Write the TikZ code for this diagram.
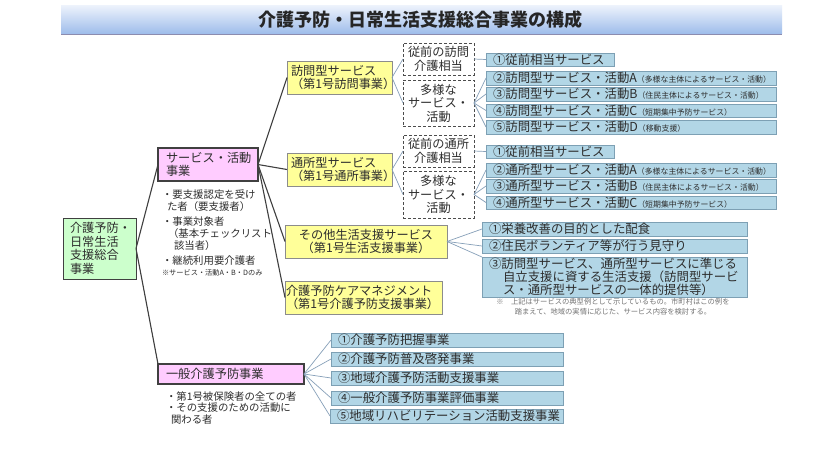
\documentclass[tikz,border=0pt]{standalone}
\usepackage{fontspec}
\setmainfont{Noto Sans CJK JP}
\definecolor{drawColor}{RGB}{45,45,45}
\definecolor{greenFill}{RGB}{204,255,204}
\definecolor{pinkFill}{RGB}{255,204,255}
\definecolor{yellowFill}{RGB}{255,255,153}
\definecolor{blueFill}{RGB}{178,214,230}
\definecolor{blueEdge}{RGB}{125,160,180}
\definecolor{linkColor}{RGB}{135,160,185}
\definecolor{bandTop}{RGB}{238,243,252}
\definecolor{bandBottom}{RGB}{160,190,235}
\tikzset{
  box/.style={anchor=west,inner xsep=4pt,inner ysep=0pt,outer sep=0pt,align=left,text=drawColor,font=\fontsize{12.2}{13.5}\selectfont},
  greenbox/.style={box,draw=black!75,line width=0.9pt,fill=greenFill},
  pinkbox/.style={box,draw=black!75,line width=1.1pt,fill=pinkFill},
  yellowbox/.style={box,draw=black!45,line width=0.9pt,fill=yellowFill},
  dashbox/.style={box,draw=black!70,line width=0.7pt,densely dashed,fill=white,align=center,inner xsep=0pt},
  bluebox/.style={box,draw=blueEdge,line width=0.8pt,fill=blueFill,inner xsep=7pt,font=\fontsize{12.4}{13.3}\selectfont},
  note/.style={anchor=north west,inner sep=0pt,outer sep=0pt,align=left,text=drawColor,font=\fontsize{10.4}{11.7}\selectfont},
  mainlink/.style={draw=black!75,line width=1.1pt},
  sublink/.style={draw=linkColor,line width=0.7pt}
}
\newcommand{\smalltail}[1]{{\fontsize{7.9}{9}\selectfont #1}}
\begin{document}
\begin{tikzpicture}[x=1pt,y=-1pt]
\path[use as bounding box,fill=white] (0,0) rectangle (835,459);

% title band
\path[top color=bandTop,bottom color=bandBottom] (61,5) rectangle (782,33);
\path[draw=blue!30!black!45,line width=1pt] (61,34) -- (782,34);
\node[inner sep=0pt,text=black!85,font=\fontsize{18}{20}\selectfont\bfseries] (title) at (420,20) {介護予防・日常生活支援総合事業の構成};

% left column
\node[greenbox,inner xsep=7pt,text width=59pt,minimum height=61pt] (sogo) at (63,248.5) {介護予防・\\日常生活\\支援総合\\事業};
\node[pinkbox,inner xsep=8pt,text width=84pt,minimum height=33pt] (svc) at (158,164.5) {サービス・活動\\事業};
\node[pinkbox,inner xsep=8pt,text width=130pt,minimum height=20pt] (ippan) at (158,374) {一般介護予防事業};

\node[note] (svcnote) at (162,190) {・要支援認定を受け\\\hspace*{5pt}た者（要支援者）};
\node[note] (svcnoteb) at (162,217) {・事業対象者\\\hspace*{6pt}（基本チェックリスト\\\hspace*{12pt}該当者）};
\node[note] (svcnotec) at (162,256) {・継続利用要介護者\\[-1pt]{\fontsize{7.2}{9}\selectfont ※サービス・活動A・B・Dのみ}};
\node[note] (ippannote) at (166,391.5) {・第1号被保険者の全ての者\\・その支援のための活動に\\\hspace*{5pt}関わる者};

% yellow column
\node[yellowbox,text width=97pt,minimum height=33pt] (homon) at (287,77.5) {訪問型サービス\\（第1号訪問事業）};
\node[yellowbox,text width=97pt,minimum height=33pt] (tsusho) at (287,169.5) {通所型サービス\\（第1号通所事業）};
\node[yellowbox,align=center,text width=154pt,minimum height=33pt] (seikatsu) at (285,241.5) {その他生活支援サービス\\（第1号生活支援事業）};
\node[yellowbox,inner xsep=1pt,text width=155pt,minimum height=33pt] (care) at (285,297.5) {介護予防ケアマネジメント\\（第1号介護予防支援事業）};

% dashed column
\node[dashbox,text width=71pt,minimum height=32pt] (jh) at (403,59) {従前の訪問\\介護相当};
\node[dashbox,text width=71pt,minimum height=46pt] (th) at (403,103) {多様な\\サービス・\\活動};
\node[dashbox,text width=71pt,minimum height=32pt] (jt) at (403,151) {従前の通所\\介護相当};
\node[dashbox,text width=71pt,minimum height=47pt] (tt) at (403,194.5) {多様な\\サービス・\\活動};

% blue boxes, home visit
\node[bluebox,text width=114pt,minimum height=13pt] (ha) at (486,59.5) {①従前相当サービス};
\node[bluebox,text width=276pt,minimum height=14pt] (hb) at (486,78) {②訪問型サービス・活動A\smalltail{（多様な主体によるサービス・活動）}};
\node[bluebox,text width=276pt,minimum height=14pt] (hc) at (486,94) {③訪問型サービス・活動B\smalltail{（住民主体によるサービス・活動）}};
\node[bluebox,text width=276pt,minimum height=13pt] (hd) at (486,110.5) {④訪問型サービス・活動C\smalltail{（短期集中予防サービス）}};
\node[bluebox,text width=276pt,minimum height=14pt] (he) at (486,127) {⑤訪問型サービス・活動D\smalltail{（移動支援）}};

% blue boxes, day service
\node[bluebox,text width=114pt,minimum height=13pt] (ta) at (486,151.5) {①従前相当サービス};
\node[bluebox,text width=276pt,minimum height=14pt] (tb) at (486,170) {②通所型サービス・活動A\smalltail{（多様な主体によるサービス・活動）}};
\node[bluebox,text width=276pt,minimum height=14pt] (tc) at (486,186) {③通所型サービス・活動B\smalltail{（住民主体によるサービス・活動）}};
\node[bluebox,text width=276pt,minimum height=13pt] (td) at (486,202.5) {④通所型サービス・活動C\smalltail{（短期集中予防サービス）}};

% blue boxes, daily life
\node[bluebox,text width=251pt,minimum height=14pt] (sa) at (482,229) {①栄養改善の目的とした配食};
\node[bluebox,text width=251pt,minimum height=14pt] (sb) at (482,246) {②住民ボランティア等が行う見守り};
\node[bluebox,text width=251pt,minimum height=40pt] (sc) at (482,277) {③訪問型サービス、通所型サービスに準じる\\\hspace*{14pt}自立支援に資する生活支援（訪問型サービ\\\hspace*{14pt}ス・通所型サービスの一体的提供等）};
\node[inner sep=0pt,align=center,text=black!55,font=\fontsize{7.3}{10}\selectfont] (scnote) at (613,306.5) {※　上記はサービスの典型例として示しているもの。市町村はこの例を\\踏まえて、地域の実情に応じた、サービス内容を検討する。};

% blue boxes, general
\node[bluebox,text width=218pt,minimum height=14pt] (ia) at (331,340) {①介護予防把握事業};
\node[bluebox,text width=218pt,minimum height=14pt] (ib) at (331,359) {②介護予防普及啓発事業};
\node[bluebox,text width=218pt,minimum height=14pt] (ic) at (331,378) {③地域介護予防活動支援事業};
\node[bluebox,text width=218pt,minimum height=14pt] (id) at (331,398) {④一般介護予防事業評価事業};
\node[bluebox,text width=219pt,minimum height=14pt] (ie) at (330,416) {⑤地域リハビリテーション活動支援事業};

% links
\path[mainlink] (sogo.east) -- (svc.west);
\path[mainlink] (sogo.east) -- (ippan.north west);
\path[mainlink] (svc.east) -- (homon.west);
\path[mainlink] (svc.east) -- (tsusho.west);
\path[mainlink] (svc.east) -- (seikatsu.west);
\path[mainlink] (svc.east) -- (care.west);

\path[sublink] (homon.east) -- (jh.west);
\path[sublink] (homon.east) -- (th.west);
\path[sublink] (tsusho.east) -- (jt.west);
\path[sublink] (tsusho.east) -- (tt.west);

\path[sublink] (jh.east) -- (ha.west);
\path[sublink] (th.east) -- (hb.west);
\path[sublink] (th.east) -- (hc.west);
\path[sublink] (th.east) -- (hd.west);
\path[sublink] (th.east) -- (he.west);
\path[sublink] (jt.east) -- (ta.west);
\path[sublink] (tt.east) -- (tb.west);
\path[sublink] (tt.east) -- (tc.west);
\path[sublink] (tt.east) -- (td.west);

\path[sublink] (seikatsu.east) -- (sa.west);
\path[sublink] (seikatsu.east) -- (sb.west);
\path[sublink] (seikatsu.east) -- (sc.north west);

\path[sublink] (ippan.east) -- (ia.west);
\path[sublink] (ippan.east) -- (ib.west);
\path[sublink] (ippan.east) -- (ic.west);
\path[sublink] (ippan.east) -- (id.west);
\path[sublink] (ippan.east) -- (ie.west);
\end{tikzpicture}
\end{document}
